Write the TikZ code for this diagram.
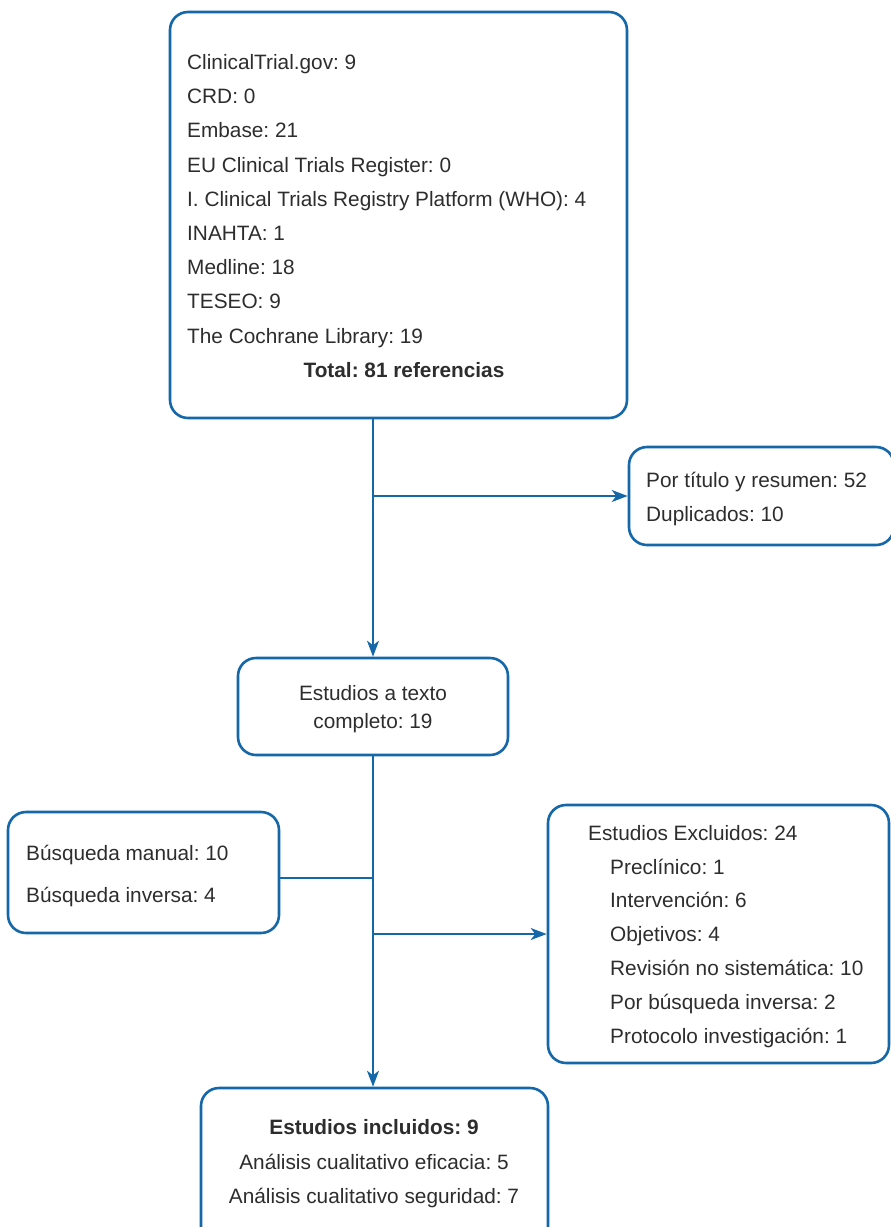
\documentclass[tikz,border=0pt]{standalone}
\usepackage{fontspec}
\setmainfont{Liberation Sans}
\usetikzlibrary{arrows.meta}
\definecolor{lineblue}{RGB}{20,103,168}
\definecolor{txtgray}{RGB}{45,45,45}
\frenchspacing
\begin{document}
\begin{tikzpicture}[x=1pt,y=-1pt,
  box/.style={draw=lineblue, line width=2.6pt, rounded corners=18pt, inner sep=0pt, fill=white},
  conn/.style={draw=lineblue, line width=1.5pt},
  arr/.style={conn, -{Stealth[length=16pt,width=12pt,inset=4.5pt]}},
  txt/.style={anchor=base west, inner sep=0pt, text=txtgray, font=\fontsize{20.8}{25}\selectfont},
  ctxt/.style={txt, anchor=base},
  btxt/.style={ctxt, font=\fontsize{20.8}{25}\selectfont\bfseries}]
\useasboundingbox (0,0) rectangle (891,1227);

% boxes
\node[box, minimum width=457pt, minimum height=406pt] (src) at (398.5,215) {};
\node[box, minimum width=265pt, minimum height=98pt] (r1) at (761.5,496) {};
\node[box, minimum width=270pt, minimum height=97pt] (ft) at (373,706.5) {};
\node[box, minimum width=271pt, minimum height=121pt] (lb) at (143.5,872.5) {};
\node[box, minimum width=341pt, minimum height=258pt] (ex) at (718.5,934) {};
\node[box, minimum width=347pt, minimum height=180pt] (inc) at (374.5,1178) {};

% connectors
\draw[arr] (ft.north |- src.south) -- (ft.north);
\draw[arr] (ft.north |- r1.west) -- (r1.west);
\draw[arr] (ft.south) -- (ft.south |- inc.north);
\coordinate (jl) at (373,878);
\draw[conn] (jl -| lb.east) -- (jl);
\draw[arr] (ft.south |- ex.west) -- (ex.west);

% texts: sources
\foreach \t [count=\i] in {{ClinicalTrial.gov: 9},{CRD: 0},{Embase: 21},{EU Clinical Trials Register: 0},{I. Clinical Trials Registry Platform (WHO): 4},{INAHTA: 1},{Medline: 18},{TESEO: 9},{The Cochrane Library: 19}}
  \node[txt] (s\i) at (187,{69.5+34.2*(\i-1)}) {\t};
\node[btxt] (tot) at (404,377) {Total: 81 referencias};

% excluded by title
\node[txt] (r1a) at (646,487) {Por título y resumen: 52};
\node[txt] (r1b) at (646,521) {Duplicados: 10};

% full text
\node[ctxt] (fta) at (373,700) {Estudios a texto};
\node[ctxt] (ftb) at (373,728) {completo: 19};

% manual search
\node[txt] (lba) at (26,860) {Búsqueda manual: 10};
\node[txt] (lbb) at (26,902) {Búsqueda inversa: 4};

% excluded studies
\node[txt] (exh) at (588,840) {Estudios Excluidos: 24};
\foreach \t [count=\i] in {{Preclínico: 1},{Intervención: 6},{Objetivos: 4},{Revisión no sistemática: 10},{Por búsqueda inversa: 2},{Protocolo investigación: 1}}
  \node[txt] (ex\i) at (610,{874+33.9*(\i-1)}) {\t};

% included
\node[btxt] (inca) at (374,1134) {Estudios incluidos: 9};
\node[ctxt] (incb) at (374,1169) {Análisis cualitativo eficacia: 5};
\node[ctxt] (incc) at (374,1203) {Análisis cualitativo seguridad: 7};
\end{tikzpicture}
\end{document}
